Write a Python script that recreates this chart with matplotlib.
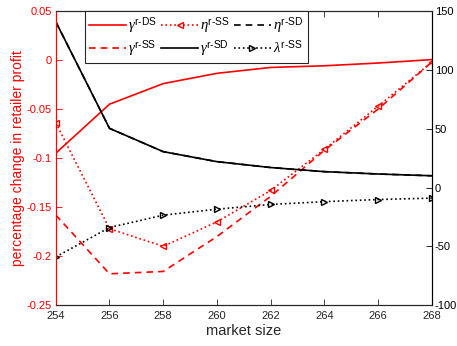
import matplotlib
matplotlib.use('Agg')
import matplotlib.pyplot as plt
from matplotlib.ticker import FormatStrFormatter

plt.rcParams['font.family'] = ['Liberation Sans', 'DejaVu Sans']
plt.rcParams['mathtext.fontset'] = 'custom'
plt.rcParams['mathtext.rm'] = 'Liberation Sans'
plt.rcParams['mathtext.it'] = 'Liberation Serif:italic'
plt.rcParams['axes.unicode_minus'] = False

# market sizes
market = [254, 256, 258, 260, 262, 264, 266, 268]

# left axis (percentage change in retailer profit)
gamma_ds = [-0.095, -0.045, -0.024, -0.0135, -0.0075, -0.0058, -0.003, 0.0005]
eta_ss = [-0.064, -0.172, -0.19, -0.165, -0.133, -0.091, -0.047, -0.002]
gamma_ss = [-0.158, -0.218, -0.2156, -0.18, -0.139, -0.092, -0.05, -0.002]

# right axis
gamma_sd = [141, 50.3, 30.5, 22, 17, 13.5, 11.5, 10]
eta_sd = gamma_sd  # hidden under gamma_sd
lambda_ss = [-59, -34, -23.5, -18.4, -14.4, -12, -10.2, -9]

fig = plt.figure(figsize=(4.57, 3.46), dpi=100)
ax1 = fig.add_axes([0.122, 0.118, 0.823, 0.850])
ax2 = ax1.twinx()

red = (1, 0, 0)
l1, = ax1.plot(market, gamma_ds, color=red, lw=1.2, label=r'$\gamma^{\mathrm{r\text{-}DS}}$')
l2, = ax1.plot(market, eta_ss, color=red, lw=1.2, ls=':', marker='<', ms=5,
               mfc='none', mew=1, label=r'$\eta^{\mathrm{r\text{-}SS}}$')
l4, = ax1.plot(market, gamma_ss, color=red, lw=1.2, ls='--', dashes=(4, 3),
               label=r'$\gamma^{\mathrm{r\text{-}SS}}$')

l3, = ax2.plot(market, eta_sd, color='k', lw=1.2, ls='--', dashes=(4, 3),
               label=r'$\eta^{\mathrm{r\text{-}SD}}$')
l5, = ax2.plot(market, gamma_sd, color='k', lw=1.2, label=r'$\gamma^{\mathrm{r\text{-}SD}}$')
l6, = ax2.plot(market, lambda_ss, color='k', lw=1.2, ls=':', marker='>', ms=5,
               mfc='none', mew=1, label=r'$\lambda^{\mathrm{r\text{-}SS}}$')

ax1.set_xlim(254, 268)
ax1.set_xticks(range(254, 269, 2))
ax1.set_ylim(-0.25, 0.05)
ax1.set_yticks([-0.25, -0.2, -0.15, -0.1, -0.05, 0, 0.05])
ax1.yaxis.set_major_formatter(FormatStrFormatter('%g'))
ax2.set_ylim(-100, 150)
ax2.set_yticks(range(-100, 151, 50))

ax1.tick_params(axis='x', direction='in', top=True, labelsize=8, colors='#262626',
                length=4, width=0.6, pad=4)
ax1.tick_params(axis='y', direction='in', colors=red, labelsize=8, length=4, width=0.6,
                pad=3)
ax2.tick_params(axis='y', direction='in', colors='k', labelsize=8, length=4, width=0.6,
                pad=2)
ax1.set_xlabel('market size', fontsize=10.5, color='#262626', labelpad=2)
ax1.set_ylabel('percentage change in retailer profit', fontsize=10, color=red, labelpad=1)

for ax in (ax1, ax2):
    ax.spines['left'].set_color(red)
    ax.spines['right'].set_color('k')
    ax.spines['top'].set_color('#262626')
    ax.spines['bottom'].set_color('#262626')
    for s in ax.spines.values():
        s.set_linewidth(0.8)

leg = ax2.legend([l1, l4, l2, l5, l3, l6],
                 [l.get_label() for l in (l1, l4, l2, l5, l3, l6)],
                 ncol=3, loc='upper left', bbox_to_anchor=(0.078, 1.0),
                 borderaxespad=0, fontsize=10.5, fancybox=False, edgecolor='#262626',
                 handlelength=2.5, handletextpad=0.15, columnspacing=0.3,
                 borderpad=0.3, labelspacing=0.1, framealpha=1)
leg.get_frame().set_linewidth(0.8)

plt.savefig('out.png', dpi=100)
